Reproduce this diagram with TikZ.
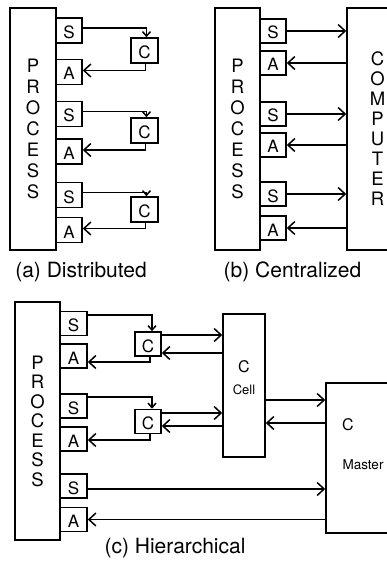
\documentclass[tikz,border=0pt]{standalone}
\usepackage{fontspec}
\setmainfont{TeX Gyre Heros}
\usetikzlibrary{arrows.meta}
\begin{document}
\begin{tikzpicture}[x=1pt,y=-1pt,
  box/.style={draw, line width=1.6pt, inner sep=0pt, minimum width=26pt,
    minimum height=25pt, text height=16pt, text depth=0pt,
    font=\fontsize{17}{17}\selectfont},
  tall/.style={draw, line width=1.6pt, inner sep=0pt, align=center,
    font=\fontsize{18.5}{21}\selectfont},
  plain/.style={draw, line width=1.6pt, inner sep=0pt},
  link/.style={line width=1.5pt,
    -{Straight Barb[length=7pt,width=13pt,line width=1.5pt]}},
  feed/.style={line width=1.5pt,
    -{Straight Barb[length=4.5pt,width=8pt,line width=1.5pt]}},
  subcap/.style={inner sep=0pt, font=\fontsize{21}{21}\selectfont},
]
\useasboundingbox (0,0) rectangle (386,564);

% ---------- (a) Distributed ----------
\node[tall, minimum width=46pt, minimum height=242pt] (pa) at (33,129)
  {P\\R\\O\\C\\E\\S\\S};
\node[box] (sa1) at (69,30.5) {S};
\node[box] (aa1) at (69,72) {A};
\node[box] (sa2) at (69,114) {S};
\node[box] (aa2) at (69,151.5) {A};
\node[box] (sa3) at (69,195) {S};
\node[box] (aa3) at (69,230) {A};
\node[box, minimum width=27pt] (ca1) at (144.5,50.5) {C};
\node[box, minimum width=27pt] (ca2) at (144.5,130.5) {C};
\node[box, minimum width=27pt] (ca3) at (144.5,209.5) {C};
\foreach \i in {1,2,3} {
  \draw[feed] ([yshift=2.5pt]sa\i.east) -| ([xshift=2pt]ca\i.north);
  \draw[link] ([xshift=1pt]ca\i.south) |- ([yshift=1.5pt]aa\i.east);
}
\node[subcap] (capa) at (81,272) {(a) Distributed};

% ---------- (b) Centralized ----------
\node[tall, minimum width=45pt, minimum height=242pt] (pb) at (237.5,129)
  {P\\R\\O\\C\\E\\S\\S};
\node[box, minimum height=24pt] (sb1) at (273,31) {S};
\node[box, minimum height=24pt] (ab1) at (273,63) {A};
\node[box, minimum height=24pt] (sb2) at (273,114) {S};
\node[box, minimum height=24pt] (ab2) at (273,145) {A};
\node[box, minimum height=24pt] (sb3) at (273,194) {S};
\node[box, minimum height=24pt] (ab3) at (273,228) {A};
\node[plain, minimum width=66pt, minimum height=242pt] (comp) at (380,129) {};
\node[inner sep=0pt, align=center, font=\fontsize{18.5}{20}\selectfont]
  (compt) at (377.5,129) {C\\O\\M\\P\\U\\T\\E\\R};
\foreach \i in {1,2,3} {
  \draw[link] (sb\i.east) -- (sb\i.east -| comp.west);
  \draw[link] (ab\i.east -| comp.west) -- (ab\i.east);
}
\node[subcap] (capb) at (292.5,272) {(b) Centralized};

% ---------- (c) Hierarchical ----------
\node[tall, font=\fontsize{18.5}{19.5}\selectfont, minimum width=45pt,
  minimum height=238pt] (pc) at (37.5,421) {P\\R\\O\\C\\E\\S\\S};
\node[box, minimum width=27pt, minimum height=24pt] (sc1) at (73.5,323.5) {S};
\node[box, minimum width=27pt, minimum height=24pt] (ac1) at (73.5,356) {A};
\node[box, minimum width=27pt, minimum height=24pt] (sc2) at (73.5,406) {S};
\node[box, minimum width=27pt, minimum height=24pt] (ac2) at (73.5,439) {A};
\node[box, minimum width=27pt, minimum height=24pt] (sc3) at (73.5,486) {S};
\node[box, minimum width=27pt, minimum height=24pt] (ac3) at (73.5,519.5) {A};
\node[box, minimum height=24pt] (cc1) at (148,344) {C};
\node[box, minimum height=24pt] (cc2) at (148,421.5) {C};

% cell controller
\node[plain, minimum width=42pt, minimum height=143pt] (cell) at (244,385.5) {};
\node[inner sep=0pt, font=\fontsize{16}{16}\selectfont] (cellc) at (244,367) {C};
\node[inner sep=0pt, font=\fontsize{13}{13}\selectfont] (celln) at (244,390) {Cell};

% master controller
\node[plain, minimum width=74pt, minimum height=150pt] (master) at (363,458) {};
\node[inner sep=0pt, font=\fontsize{16}{16}\selectfont] (masterc) at (348,425) {C};
\node[inner sep=0pt, font=\fontsize{13.5}{14}\selectfont] (mastern) at (363,465) {Master};

% local loops
\draw[feed] ([yshift=8.5pt]sc1.east) -| ([xshift=4pt]cc1.north);
\draw[link] ([xshift=2pt]cc1.south) |- ([yshift=-6pt]ac1.east);
\draw[feed] ([yshift=9pt]sc2.east) -| ([xshift=4pt]cc2.north);
\draw[link] ([xshift=2pt]cc2.south) |- ([yshift=-1pt]ac2.east);

% local controllers <-> cell
\draw[link] ([yshift=9pt]cc1.east) -- ([yshift=9pt]cc1.east -| cell.west);
\draw[link] ([yshift=-9pt]cc1.east -| cell.west) -- ([yshift=-9pt]cc1.east);
\draw[link] ([yshift=8.5pt]cc2.east) -- ([yshift=8.5pt]cc2.east -| cell.west);
\draw[link] ([yshift=-4.5pt]cc2.east -| cell.west) -- ([yshift=-4.5pt]cc2.east);

% cell <-> master
\draw[link] ([yshift=-14.5pt]cell.east) -- ([yshift=-14.5pt]cell.east -| master.west);
\draw[link] ([yshift=-37.5pt]cell.east -| master.west) -- ([yshift=-37.5pt]cell.east);

% direct loop through the master
\draw[link] ([yshift=-3pt]sc3.east) -- ([yshift=-3pt]sc3.east -| master.west);
\draw[link] (ac3.east -| master.west) -- (ac3.east);

\node[subcap] (capc) at (175,548) {(c) Hierarchical};
\end{tikzpicture}
\end{document}
